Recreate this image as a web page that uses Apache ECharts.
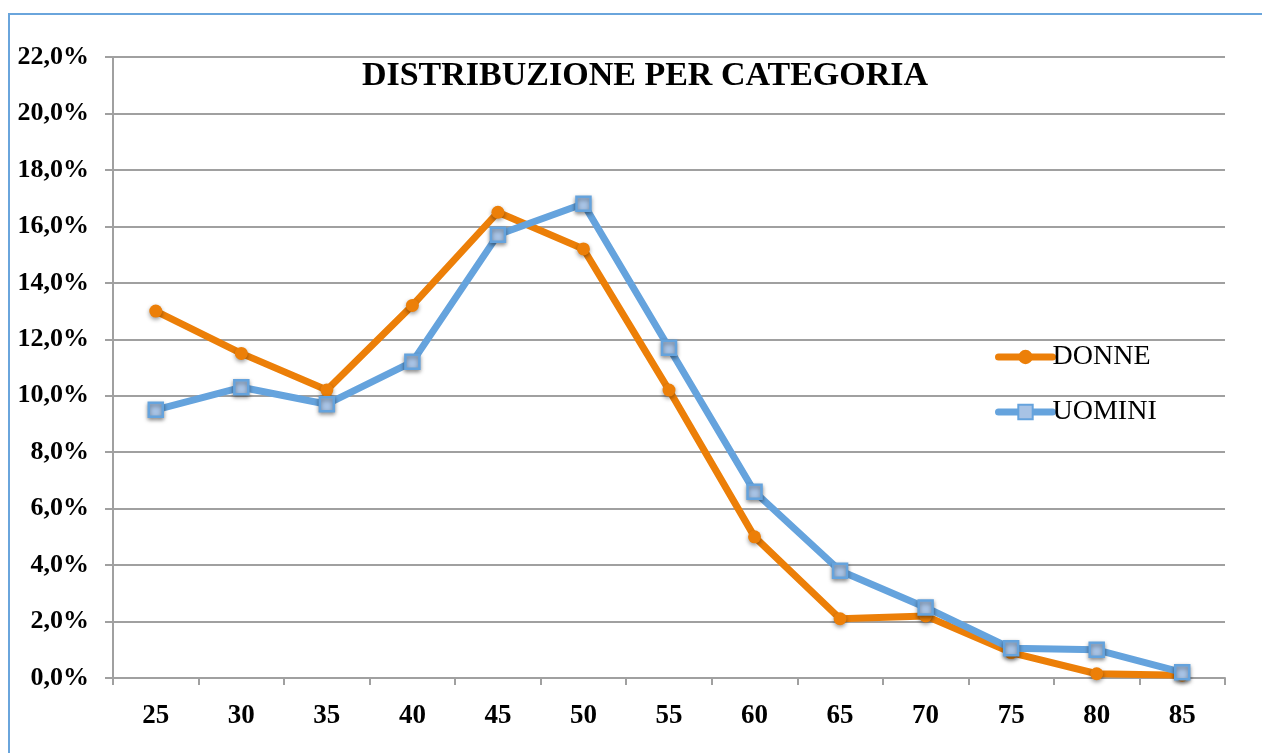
<!DOCTYPE html>
<html>
<head>
<meta charset="utf-8">
<script src="https://cdn.jsdelivr.net/npm/echarts@6/dist/echarts.min.js"></script>
<style>
  html, body { margin: 0; padding: 0; background: #fff; }
  #main { width: 1262px; height: 753px; }
</style>
</head>
<body>
<div id="main"></div>
<script>
// dati
var categorie = ['25', '30', '35', '40', '45', '50', '55', '60', '65', '70', '75', '80', '85'];
var donne = [13.0, 11.5, 10.2, 13.2, 16.5, 15.2, 10.2, 5.0, 2.1, 2.2, 0.9, 0.15, 0.1];
var uomini = [9.5, 10.3, 9.7, 11.2, 15.7, 16.8, 11.7, 6.6, 3.8, 2.5, 1.05, 1.0, 0.2];

var fontSerif = '"Liberation Serif", "Times New Roman", serif';
var grigio = '#A0A0A0';

var myChart = echarts.init(document.getElementById('main'));

const option = {
    animation: false,
    title: {
        text: 'DISTRIBUZIONE PER CATEGORIA',
        left: 640,
        textAlign: 'center',
        top: 54,
        textStyle: {
            fontFamily: fontSerif,
            fontWeight: 'bold',
            fontSize: 34,
            color: '#000'
        }
    },
    graphic: [{
        type: 'rect',
        shape: { x: 9, y: 14, width: 1270, height: 760 },
        style: { fill: null, stroke: '#6AA5DC', lineWidth: 2 },
        silent: true
    }],
    legend: {
        orient: 'vertical',
        left: 990,
        top: 338,
        itemGap: 27,
        itemWidth: 54,
        itemHeight: 18,
        lineStyle: { width: 7, cap: 'round' },
        textStyle: {
            fontFamily: fontSerif,
            fontSize: 28,
            color: '#000',
            padding: [0, 0, 0, -5]
        },
        data: ['DONNE', 'UOMINI']
    },
    grid: {
        left: 113,
        top: 57,
        right: 37,
        bottom: 75
    },
    xAxis: {
        type: 'category',
        data: categorie,
        boundaryGap: true,
        axisLine: { lineStyle: { color: grigio, width: 2 } },
        axisTick: { show: true, length: 7, lineStyle: { color: grigio, width: 2 } },
        axisLabel: {
            margin: 25,
            fontFamily: fontSerif,
            fontWeight: 'bold',
            fontSize: 27,
            color: '#000'
        }
    },
    yAxis: {
        type: 'value',
        min: 0,
        max: 22,
        interval: 2,
        axisLine: { show: true, lineStyle: { color: grigio, width: 2 } },
        axisTick: { show: true, length: 8, lineStyle: { color: grigio, width: 2 } },
        splitLine: { lineStyle: { color: grigio, width: 2 } },
        axisLabel: {
            margin: 24,
            fontFamily: fontSerif,
            fontWeight: 'bold',
            fontSize: 26,
            color: '#000',
            formatter: function (v) {
                return v.toFixed(1).replace('.', ',') + '%';
            }
        }
    },
    series: [
        {
            name: 'DONNE',
            type: 'line',
            data: donne,
            symbol: 'circle',
            symbolSize: 13,
            lineStyle: { color: '#EC7F08', width: 7 },
            itemStyle: {
                color: '#EC7F08',
                shadowBlur: 4,
                shadowColor: 'rgba(0,0,0,0.4)',
                shadowOffsetY: 2
            },
            z: 2
        },
        {
            name: 'UOMINI',
            type: 'line',
            data: uomini,
            symbol: 'rect',
            symbolSize: 14,
            lineStyle: { color: '#65A3DD', width: 7 },
            itemStyle: {
                color: '#A8C3E5',
                borderColor: '#65A3DD',
                borderWidth: 2.5,
                shadowBlur: 4,
                shadowColor: 'rgba(0,0,0,0.4)',
                shadowOffsetY: 2
            },
            z: 3
        }
    ]
};

myChart.setOption(option);
</script>
</body>
</html>
